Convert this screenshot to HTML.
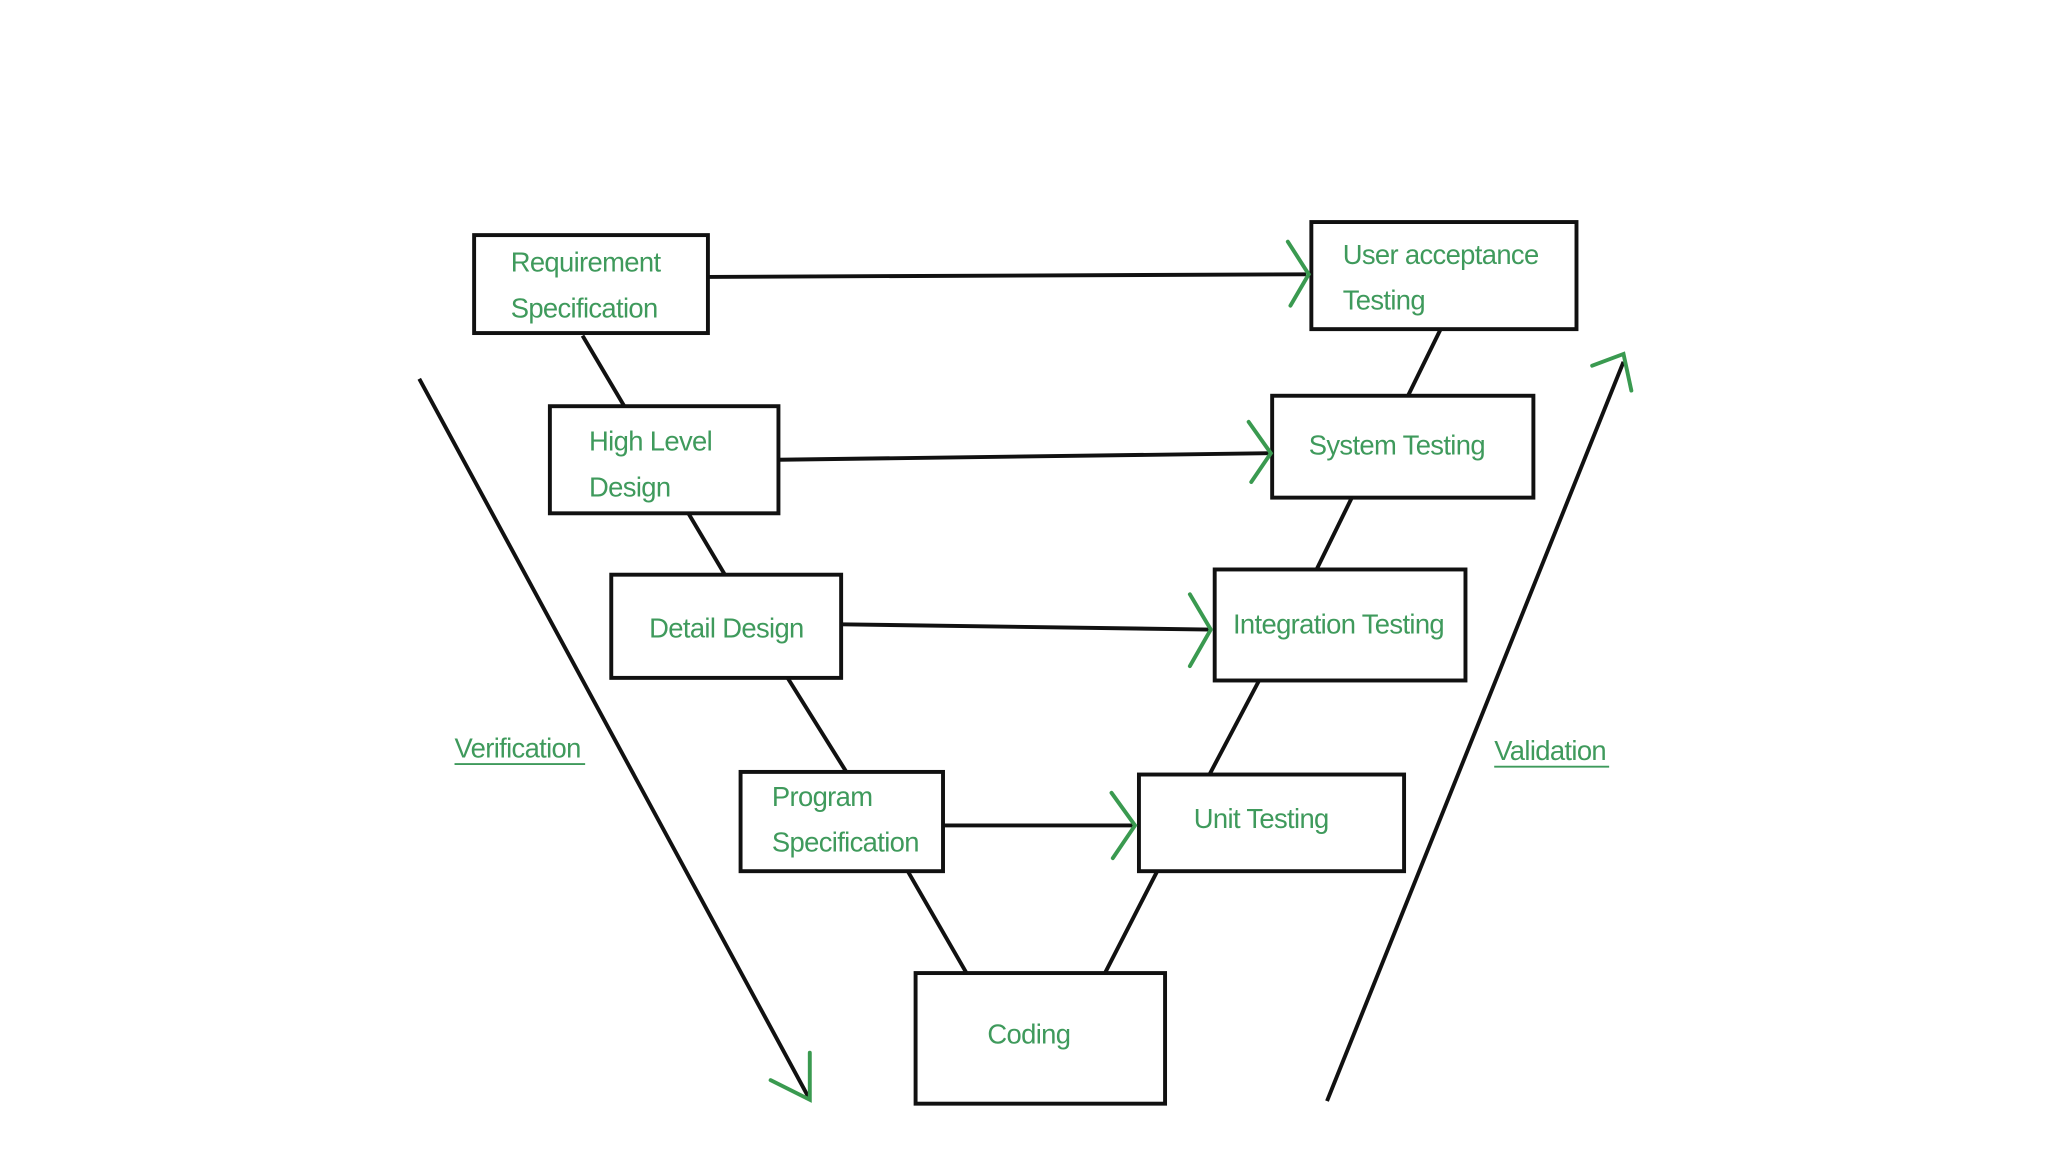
<!DOCTYPE html>
<html><head><meta charset="utf-8"><style>
html,body{margin:0;padding:0;background:#fff;}
svg{display:block;}
text{font-family:"Liberation Sans",sans-serif;fill:#3f9a5c;font-size:21px;letter-spacing:-0.5px;}
</style></head><body>
<svg width="2048" height="1152" viewBox="0 0 1568 882" xmlns="http://www.w3.org/2000/svg">
<rect width="1568" height="882" fill="#fff"/>
<g fill="none" stroke="#111" stroke-width="3">
<rect x="363" y="180" width="179" height="75"/>
<rect x="421" y="311" width="175" height="82"/>
<rect x="468" y="440" width="176" height="79"/>
<rect x="567" y="591" width="155" height="76"/>
<rect x="701" y="745" width="191" height="100"/>
<rect x="1004" y="170" width="203" height="82"/>
<rect x="974" y="303" width="200" height="78"/>
<rect x="930" y="436" width="192" height="85"/>
<rect x="872" y="593" width="203" height="74"/>
<line x1="446" y1="257" x2="478" y2="311"/>
<line x1="527" y1="393" x2="555" y2="440"/>
<line x1="603" y1="519" x2="648" y2="591"/>
<line x1="695" y1="667" x2="740" y2="745"/>
<line x1="846" y1="745" x2="886" y2="667"/>
<line x1="926" y1="593" x2="964" y2="521"/>
<line x1="1008" y1="436" x2="1035" y2="381"/>
<line x1="1078" y1="303" x2="1103" y2="252"/>
<line x1="542" y1="212" x2="1000" y2="210"/>
<line x1="596" y1="352" x2="972" y2="347"/>
<line x1="644" y1="478" x2="926" y2="482"/>
<line x1="722" y1="632" x2="868" y2="632"/>
<line x1="321" y1="290" x2="619" y2="840"/>
<line x1="1016" y1="843" x2="1243" y2="277"/>
</g>
<g fill="none" stroke="#3a9a50" stroke-width="3" stroke-linecap="round">
<polyline points="986,185 1002,210 988,234"/>
<polyline points="956,323 973,347 958,369"/>
<polyline points="911,455 927,482 911,510"/>
<polyline points="851,607 869,632 852,657"/>
<polyline points="590,827 620,842 620,806"/>
<polyline points="1219,280 1243,271 1249,299"/>
</g>
<text x="391" y="208">Requirement</text>
<text x="391" y="243">Specification</text>
<text x="451" y="345">High Level</text>
<text x="451" y="380">Design</text>
<text x="497" y="488">Detail Design</text>
<text x="591" y="617">Program</text>
<text x="591" y="652">Specification</text>
<text x="756" y="799">Coding</text>
<text x="1028" y="202">User acceptance</text>
<text x="1028" y="237">Testing</text>
<text x="1002" y="348">System Testing</text>
<text x="944" y="485">Integration Testing</text>
<text x="914" y="634">Unit Testing</text>
<text x="348" y="580">Verification</text>
<line x1="348" y1="585" x2="448" y2="585" stroke="#3f9a5c" stroke-width="1.5"/>
<text x="1144" y="582">Validation</text>
<line x1="1144" y1="587" x2="1232" y2="587" stroke="#3f9a5c" stroke-width="1.5"/>
</svg>
</body></html>
